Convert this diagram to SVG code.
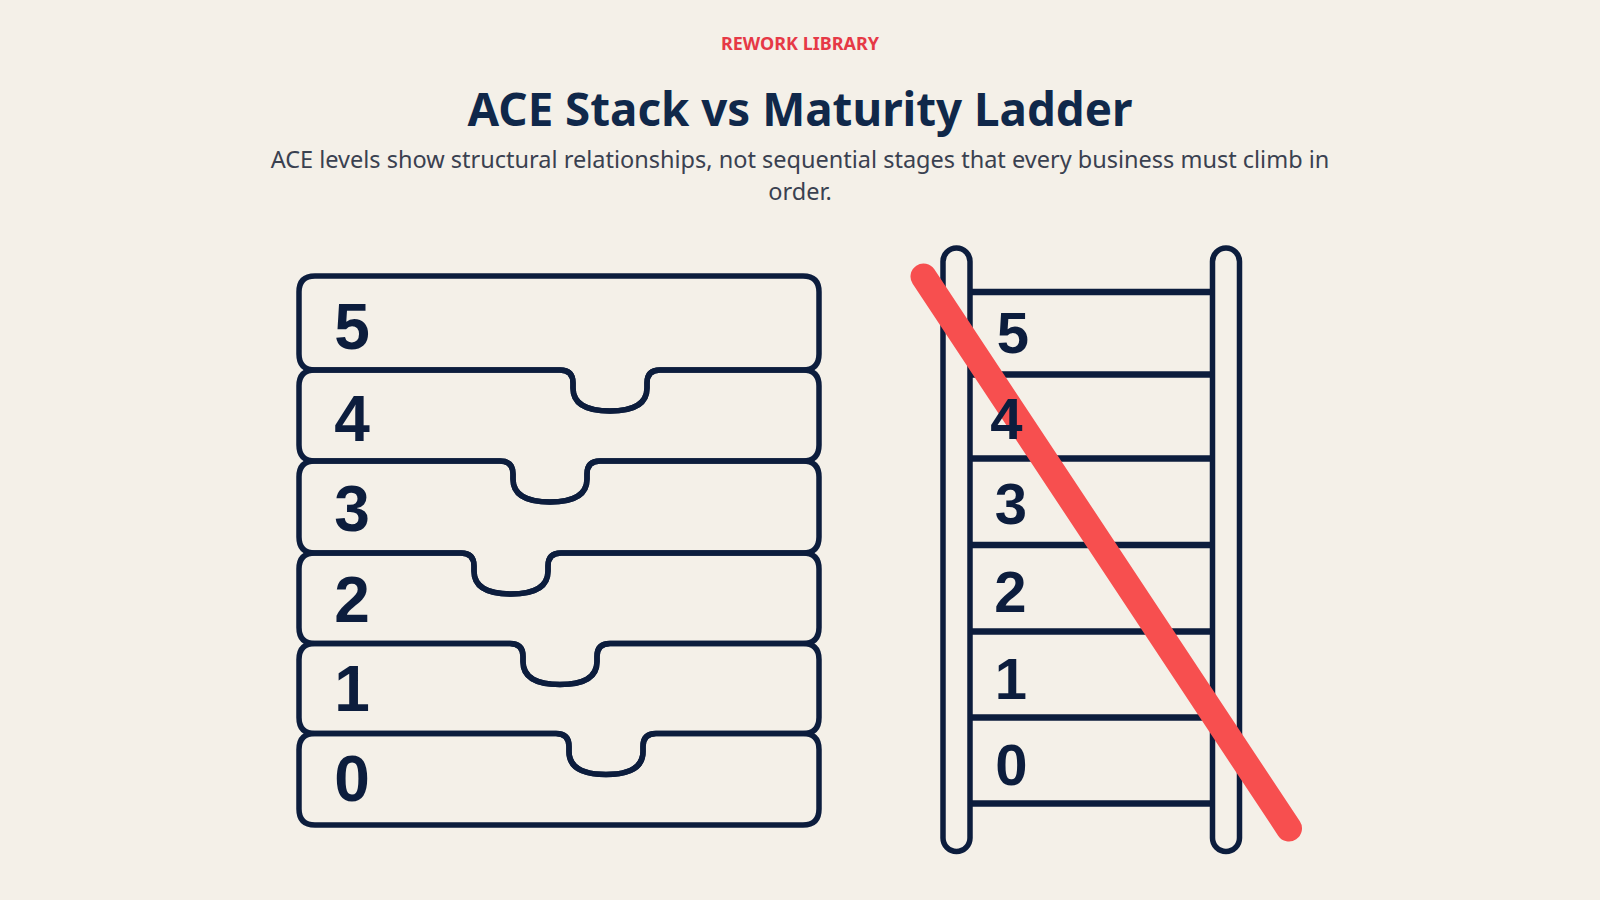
<svg xmlns="http://www.w3.org/2000/svg" width="1600" height="900" viewBox="0 0 1600 900">
  <style>
    .kicker { font-family: "Noto Sans", "Liberation Sans", sans-serif; font-weight: 700; font-size: 18px; fill: #E63946; }
    .title { font-family: "Noto Sans", "Liberation Sans", sans-serif; font-weight: 700; font-size: 45.7px; fill: #10284A; }
    .sub { font-family: "Noto Sans", "Liberation Sans", sans-serif; font-size: 23.5px; fill: #3A4150; }
    .blk { fill: none; stroke: #0C1D3D; stroke-width: 5.5; stroke-linejoin: round; }
    .dig { font-family: "Liberation Sans", Arial, sans-serif; font-weight: 700; font-size: 64px; fill: #0C1D3D; text-anchor: middle; }
    .ldig { font-family: "Liberation Sans", Arial, sans-serif; font-weight: 700; font-size: 58px; fill: #0C1D3D; text-anchor: middle; }
    .rung { stroke: #0C1D3D; stroke-width: 6.5; }
    .rail { fill: #F4F0E8; stroke: #0C1D3D; stroke-width: 5.5; }
    .slash { stroke: #F74F4F; stroke-width: 26; stroke-linecap: round; }
  </style>
  <rect x="0" y="0" width="1600" height="900" fill="#F4F0E8"/>

  <g id="header">
    <text class="kicker" x="800" y="50" text-anchor="middle">REWORK LIBRARY</text>
    <text class="title" x="800" y="125.5" text-anchor="middle">ACE Stack vs Maturity Ladder</text>
    <text class="sub" x="800" y="168" text-anchor="middle">ACE levels show structural relationships, not sequential stages that every business must climb in</text>
    <text class="sub" x="800" y="200" text-anchor="middle">order.</text>
  </g>

  <g id="ace-stack">
    <g id="level-5">
      <path class="blk" d="M 315 276 H 803 Q 819 276 819 292 V 354 Q 819 370 803 370 H 660 Q 647 370 647 383 V 388 C 647 406 630 411 610 411 C 590 411 573 406 573 388 V 383 Q 573 370 560 370 H 315 Q 299 370 299 354 V 292 Q 299 276 315 276 Z"/>
      <text class="dig" x="352" y="348.5">5</text>
    </g>
    <g id="level-4">
      <path class="blk" d="M 315 370 H 560 Q 573 370 573 383 V 388 C 573 406 590 411 610 411 C 630 411 647 406 647 388 V 383 Q 647 370 660 370 H 803 Q 819 370 819 386 V 445 Q 819 461 803 461 H 600 Q 587 461 587 474 V 479 C 587 497 570 502 550 502 C 530 502 513 497 513 479 V 474 Q 513 461 500 461 H 315 Q 299 461 299 445 V 386 Q 299 370 315 370 Z"/>
      <text class="dig" x="352" y="440.5">4</text>
    </g>
    <g id="level-3">
      <path class="blk" d="M 315 461 H 500 Q 513 461 513 474 V 479 C 513 497 530 502 550 502 C 570 502 587 497 587 479 V 474 Q 587 461 600 461 H 803 Q 819 461 819 477 V 537 Q 819 553 803 553 H 561 Q 548 553 548 566 V 571 C 548 589 531 594 511 594 C 491 594 474 589 474 571 V 566 Q 474 553 461 553 H 315 Q 299 553 299 537 V 477 Q 299 461 315 461 Z"/>
      <text class="dig" x="352" y="531">3</text>
    </g>
    <g id="level-2">
      <path class="blk" d="M 315 553 H 461 Q 474 553 474 566 V 571 C 474 589 491 594 511 594 C 531 594 548 589 548 571 V 566 Q 548 553 561 553 H 803 Q 819 553 819 569 V 627.5 Q 819 643.5 803 643.5 H 610 Q 597 643.5 597 656.5 V 661.5 C 597 679.5 580 684.5 560 684.5 C 540 684.5 523 679.5 523 661.5 V 656.5 Q 523 643.5 510 643.5 H 315 Q 299 643.5 299 627.5 V 569 Q 299 553 315 553 Z"/>
      <text class="dig" x="352" y="622">2</text>
    </g>
    <g id="level-1">
      <path class="blk" d="M 315 643.5 H 510 Q 523 643.5 523 656.5 V 661.5 C 523 679.5 540 684.5 560 684.5 C 580 684.5 597 679.5 597 661.5 V 656.5 Q 597 643.5 610 643.5 H 803 Q 819 643.5 819 659.5 V 717.5 Q 819 733.5 803 733.5 H 656 Q 643 733.5 643 746.5 V 751.5 C 643 769.5 626 774.5 606 774.5 C 586 774.5 569 769.5 569 751.5 V 746.5 Q 569 733.5 556 733.5 H 315 Q 299 733.5 299 717.5 V 659.5 Q 299 643.5 315 643.5 Z"/>
      <text class="dig" x="352" y="711">1</text>
    </g>
    <g id="level-0">
      <path class="blk" d="M 315 733.5 H 556 Q 569 733.5 569 746.5 V 751.5 C 569 769.5 586 774.5 606 774.5 C 626 774.5 643 769.5 643 751.5 V 746.5 Q 643 733.5 656 733.5 H 803 Q 819 733.5 819 749.5 V 809 Q 819 825 803 825 H 315 Q 299 825 299 809 V 749.5 Q 299 733.5 315 733.5 Z"/>
      <text class="dig" x="352" y="801">0</text>
    </g>
  </g>

  <g id="maturity-ladder">
    <g id="rungs">
      <line class="rung" x1="956" y1="292" x2="1226" y2="292"/>
      <line class="rung" x1="956" y1="374.5" x2="1226" y2="374.5"/>
      <line class="rung" x1="956" y1="458.5" x2="1226" y2="458.5"/>
      <line class="rung" x1="956" y1="545" x2="1226" y2="545"/>
      <line class="rung" x1="956" y1="631.5" x2="1226" y2="631.5"/>
      <line class="rung" x1="956" y1="717.5" x2="1226" y2="717.5"/>
      <line class="rung" x1="956" y1="803.5" x2="1226" y2="803.5"/>
    </g>
    <rect id="rail-left" class="rail" x="943" y="248" width="27" height="603.5" rx="13.5"/>
    <rect id="rail-right" class="rail" x="1212.5" y="248" width="27" height="603.5" rx="13.5"/>
    <line id="cross-out" class="slash" x1="923.5" y1="276.5" x2="1289" y2="828.5"/>
    <g id="ladder-labels">
      <text class="ldig" x="1013" y="353">5</text>
      <text class="ldig" x="1006.5" y="439">4</text>
      <text class="ldig" x="1011" y="523.5">3</text>
      <text class="ldig" x="1010.5" y="612">2</text>
      <text class="ldig" x="1011" y="699">1</text>
      <text class="ldig" x="1011.5" y="785">0</text>
    </g>
  </g>
</svg>
